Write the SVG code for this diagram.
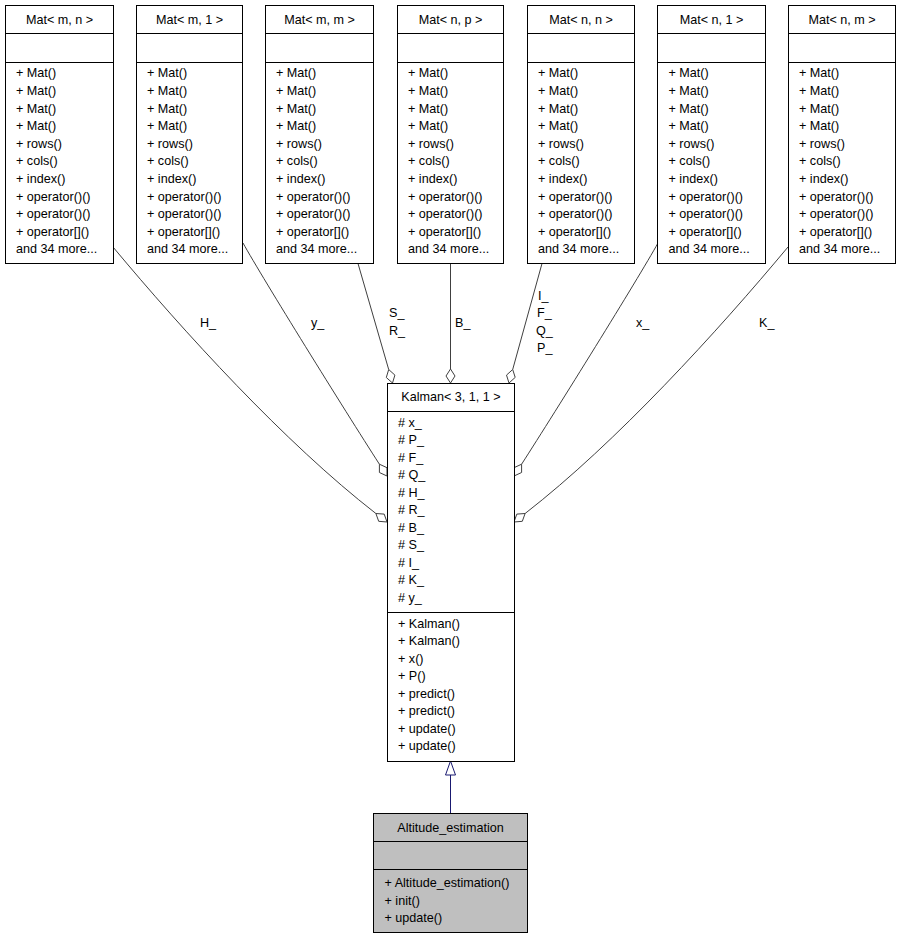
<svg xmlns="http://www.w3.org/2000/svg" width="901" height="939" viewBox="0 0 901 939">
<style>
.box{fill:#ffffff;stroke:#000000;stroke-width:1}
.alt{fill:#bfbfbf;stroke:#000000;stroke-width:1}
.sep{stroke:#000000;stroke-width:1}
.t{font-family:"Liberation Sans",Arial,Helvetica,sans-serif;font-size:12.6px;fill:#000000}
.c{text-anchor:middle}
.edge{fill:none;stroke:#404040;stroke-width:1}
.dia{fill:#ffffff;stroke:#404040;stroke-width:1}
.inh{fill:none;stroke:#191970;stroke-width:1}
.tri{fill:#ffffff;stroke:#191970;stroke-width:1}
</style>
<rect x="0" y="0" width="901" height="939" fill="#ffffff"/>

<g id="connectors">
  <path class="edge" d="M113,247 C183,331 285,443 375.9,513.5"/>
  <polygon class="dia" points="387,522 378.7,521.3 375.9,513.5 384.2,514.1"/>
  <path class="edge" d="M243,243 C263,279 344.3,409.6 379.4,464.2"/>
  <polygon class="dia" points="387,476 379.4,472.5 379.4,464.2 387,467.7"/>
  <path class="edge" d="M358,263.5 L388.7,369.5"/>
  <polygon class="dia" points="392.5,383 386.3,377.5 388.7,369.5 394.9,375.1"/>
  <path class="edge" d="M450.5,263.5 L450.5,369"/>
  <polygon class="dia" points="450.5,383 446,376 450.5,369 455,376"/>
  <path class="edge" d="M542,263.5 L512.7,369.5"/>
  <polygon class="dia" points="509,383 506.5,375.1 512.7,369.5 515.2,377.4"/>
  <path class="edge" d="M658,243 C638,279 556.7,409.6 521.6,464.2"/>
  <polygon class="dia" points="514,476 514,467.7 521.6,464.2 521.6,472.5"/>
  <path class="edge" d="M788,247 C718,331 616,443 525.1,513.5"/>
  <polygon class="dia" points="514,522 522.3,521.3 525.1,513.5 516.8,514.1"/>
  <path class="inh" d="M450.5,813 L450.5,775"/>
  <polygon class="tri" points="450.5,761 445.5,775 455.5,775"/>
  <text class="t" x="200" y="326.5">H_</text>
  <text class="t" x="311" y="326.5">y_</text>
  <text class="t" x="389" y="317">S_</text>
  <text class="t" x="389" y="334.5">R_</text>
  <text class="t" x="455" y="326.5">B_</text>
  <text class="t" x="538" y="300">I_</text>
  <text class="t" x="537" y="317.3">F_</text>
  <text class="t" x="536" y="334.6">Q_</text>
  <text class="t" x="537" y="352">P_</text>
  <text class="t" x="636" y="326.5">x_</text>
  <text class="t" x="759" y="326.5">K_</text>
</g>

<g id="mat_m_n">
  <rect class="box" x="5.5" y="5.5" width="108" height="258"/>
  <line class="sep" x1="5.5" y1="33.5" x2="113.5" y2="33.5"/>
  <line class="sep" x1="5.5" y1="62.5" x2="113.5" y2="62.5"/>
  <text class="t c" x="59.5" y="24">Mat&lt; m, n &gt;</text>
  <text class="t" x="16"><tspan x="16" y="77.3">+ Mat()</tspan><tspan x="16" y="94.9">+ Mat()</tspan><tspan x="16" y="112.5">+ Mat()</tspan><tspan x="16" y="130.1">+ Mat()</tspan><tspan x="16" y="147.7">+ rows()</tspan><tspan x="16" y="165.3">+ cols()</tspan><tspan x="16" y="182.9">+ index()</tspan><tspan x="16" y="200.5">+ operator()()</tspan><tspan x="16" y="218.1">+ operator()()</tspan><tspan x="16" y="235.7">+ operator[]()</tspan><tspan x="16" y="253.3">and 34 more...</tspan></text>
</g>

<g id="mat_m_1">
  <rect class="box" x="136.5" y="5.5" width="106" height="258"/>
  <line class="sep" x1="136.5" y1="33.5" x2="242.5" y2="33.5"/>
  <line class="sep" x1="136.5" y1="62.5" x2="242.5" y2="62.5"/>
  <text class="t c" x="189.5" y="24">Mat&lt; m, 1 &gt;</text>
  <text class="t" x="147"><tspan x="147" y="77.3">+ Mat()</tspan><tspan x="147" y="94.9">+ Mat()</tspan><tspan x="147" y="112.5">+ Mat()</tspan><tspan x="147" y="130.1">+ Mat()</tspan><tspan x="147" y="147.7">+ rows()</tspan><tspan x="147" y="165.3">+ cols()</tspan><tspan x="147" y="182.9">+ index()</tspan><tspan x="147" y="200.5">+ operator()()</tspan><tspan x="147" y="218.1">+ operator()()</tspan><tspan x="147" y="235.7">+ operator[]()</tspan><tspan x="147" y="253.3">and 34 more...</tspan></text>
</g>

<g id="mat_m_m">
  <rect class="box" x="265.5" y="5.5" width="108" height="258"/>
  <line class="sep" x1="265.5" y1="33.5" x2="373.5" y2="33.5"/>
  <line class="sep" x1="265.5" y1="62.5" x2="373.5" y2="62.5"/>
  <text class="t c" x="319.5" y="24">Mat&lt; m, m &gt;</text>
  <text class="t" x="276"><tspan x="276" y="77.3">+ Mat()</tspan><tspan x="276" y="94.9">+ Mat()</tspan><tspan x="276" y="112.5">+ Mat()</tspan><tspan x="276" y="130.1">+ Mat()</tspan><tspan x="276" y="147.7">+ rows()</tspan><tspan x="276" y="165.3">+ cols()</tspan><tspan x="276" y="182.9">+ index()</tspan><tspan x="276" y="200.5">+ operator()()</tspan><tspan x="276" y="218.1">+ operator()()</tspan><tspan x="276" y="235.7">+ operator[]()</tspan><tspan x="276" y="253.3">and 34 more...</tspan></text>
</g>

<g id="mat_n_p">
  <rect class="box" x="397.5" y="5.5" width="106" height="258"/>
  <line class="sep" x1="397.5" y1="33.5" x2="503.5" y2="33.5"/>
  <line class="sep" x1="397.5" y1="62.5" x2="503.5" y2="62.5"/>
  <text class="t c" x="450.5" y="24">Mat&lt; n, p &gt;</text>
  <text class="t" x="408"><tspan x="408" y="77.3">+ Mat()</tspan><tspan x="408" y="94.9">+ Mat()</tspan><tspan x="408" y="112.5">+ Mat()</tspan><tspan x="408" y="130.1">+ Mat()</tspan><tspan x="408" y="147.7">+ rows()</tspan><tspan x="408" y="165.3">+ cols()</tspan><tspan x="408" y="182.9">+ index()</tspan><tspan x="408" y="200.5">+ operator()()</tspan><tspan x="408" y="218.1">+ operator()()</tspan><tspan x="408" y="235.7">+ operator[]()</tspan><tspan x="408" y="253.3">and 34 more...</tspan></text>
</g>

<g id="mat_n_n">
  <rect class="box" x="527.5" y="5.5" width="107" height="258"/>
  <line class="sep" x1="527.5" y1="33.5" x2="634.5" y2="33.5"/>
  <line class="sep" x1="527.5" y1="62.5" x2="634.5" y2="62.5"/>
  <text class="t c" x="581" y="24">Mat&lt; n, n &gt;</text>
  <text class="t" x="538"><tspan x="538" y="77.3">+ Mat()</tspan><tspan x="538" y="94.9">+ Mat()</tspan><tspan x="538" y="112.5">+ Mat()</tspan><tspan x="538" y="130.1">+ Mat()</tspan><tspan x="538" y="147.7">+ rows()</tspan><tspan x="538" y="165.3">+ cols()</tspan><tspan x="538" y="182.9">+ index()</tspan><tspan x="538" y="200.5">+ operator()()</tspan><tspan x="538" y="218.1">+ operator()()</tspan><tspan x="538" y="235.7">+ operator[]()</tspan><tspan x="538" y="253.3">and 34 more...</tspan></text>
</g>

<g id="mat_n_1">
  <rect class="box" x="657.5" y="5.5" width="108" height="258"/>
  <line class="sep" x1="657.5" y1="33.5" x2="765.5" y2="33.5"/>
  <line class="sep" x1="657.5" y1="62.5" x2="765.5" y2="62.5"/>
  <text class="t c" x="711.5" y="24">Mat&lt; n, 1 &gt;</text>
  <text class="t" x="668.5"><tspan x="668.5" y="77.3">+ Mat()</tspan><tspan x="668.5" y="94.9">+ Mat()</tspan><tspan x="668.5" y="112.5">+ Mat()</tspan><tspan x="668.5" y="130.1">+ Mat()</tspan><tspan x="668.5" y="147.7">+ rows()</tspan><tspan x="668.5" y="165.3">+ cols()</tspan><tspan x="668.5" y="182.9">+ index()</tspan><tspan x="668.5" y="200.5">+ operator()()</tspan><tspan x="668.5" y="218.1">+ operator()()</tspan><tspan x="668.5" y="235.7">+ operator[]()</tspan><tspan x="668.5" y="253.3">and 34 more...</tspan></text>
</g>

<g id="mat_n_m">
  <rect class="box" x="788.5" y="5.5" width="107" height="258"/>
  <line class="sep" x1="788.5" y1="33.5" x2="895.5" y2="33.5"/>
  <line class="sep" x1="788.5" y1="62.5" x2="895.5" y2="62.5"/>
  <text class="t c" x="842" y="24">Mat&lt; n, m &gt;</text>
  <text class="t" x="799"><tspan x="799" y="77.3">+ Mat()</tspan><tspan x="799" y="94.9">+ Mat()</tspan><tspan x="799" y="112.5">+ Mat()</tspan><tspan x="799" y="130.1">+ Mat()</tspan><tspan x="799" y="147.7">+ rows()</tspan><tspan x="799" y="165.3">+ cols()</tspan><tspan x="799" y="182.9">+ index()</tspan><tspan x="799" y="200.5">+ operator()()</tspan><tspan x="799" y="218.1">+ operator()()</tspan><tspan x="799" y="235.7">+ operator[]()</tspan><tspan x="799" y="253.3">and 34 more...</tspan></text>
</g>

<g id="kalman">
  <rect class="box" x="387.5" y="383.5" width="127" height="378"/>
  <line class="sep" x1="387.5" y1="411.5" x2="514.5" y2="411.5"/>
  <line class="sep" x1="387.5" y1="612.5" x2="514.5" y2="612.5"/>
  <text class="t c" x="451" y="401">Kalman&lt; 3, 1, 1 &gt;</text>
  <text class="t" x="398"><tspan x="398" y="426.5"># x_</tspan><tspan x="398" y="444"># P_</tspan><tspan x="398" y="461.5"># F_</tspan><tspan x="398" y="479"># Q_</tspan><tspan x="398" y="496.5"># H_</tspan><tspan x="398" y="514"># R_</tspan><tspan x="398" y="531.5"># B_</tspan><tspan x="398" y="549"># S_</tspan><tspan x="398" y="566.5"># I_</tspan><tspan x="398" y="584"># K_</tspan><tspan x="398" y="601.5"># y_</tspan></text>
  <text class="t" x="398"><tspan x="398" y="627.8">+ Kalman()</tspan><tspan x="398" y="645.3">+ Kalman()</tspan><tspan x="398" y="662.8">+ x()</tspan><tspan x="398" y="680.3">+ P()</tspan><tspan x="398" y="697.8">+ predict()</tspan><tspan x="398" y="715.3">+ predict()</tspan><tspan x="398" y="732.8">+ update()</tspan><tspan x="398" y="750.3">+ update()</tspan></text>
</g>

<g id="altitude_estimation">
  <rect class="alt" x="373.5" y="813.5" width="154" height="119"/>
  <line class="sep" x1="373.5" y1="841.5" x2="527.5" y2="841.5"/>
  <line class="sep" x1="373.5" y1="869.5" x2="527.5" y2="869.5"/>
  <text class="t c" x="450.5" y="831.5">Altitude_estimation</text>
  <text class="t" x="384.5"><tspan x="384.5" y="887.3">+ Altitude_estimation()</tspan><tspan x="384.5" y="904.8">+ init()</tspan><tspan x="384.5" y="922.3">+ update()</tspan></text>
</g>
</svg>
